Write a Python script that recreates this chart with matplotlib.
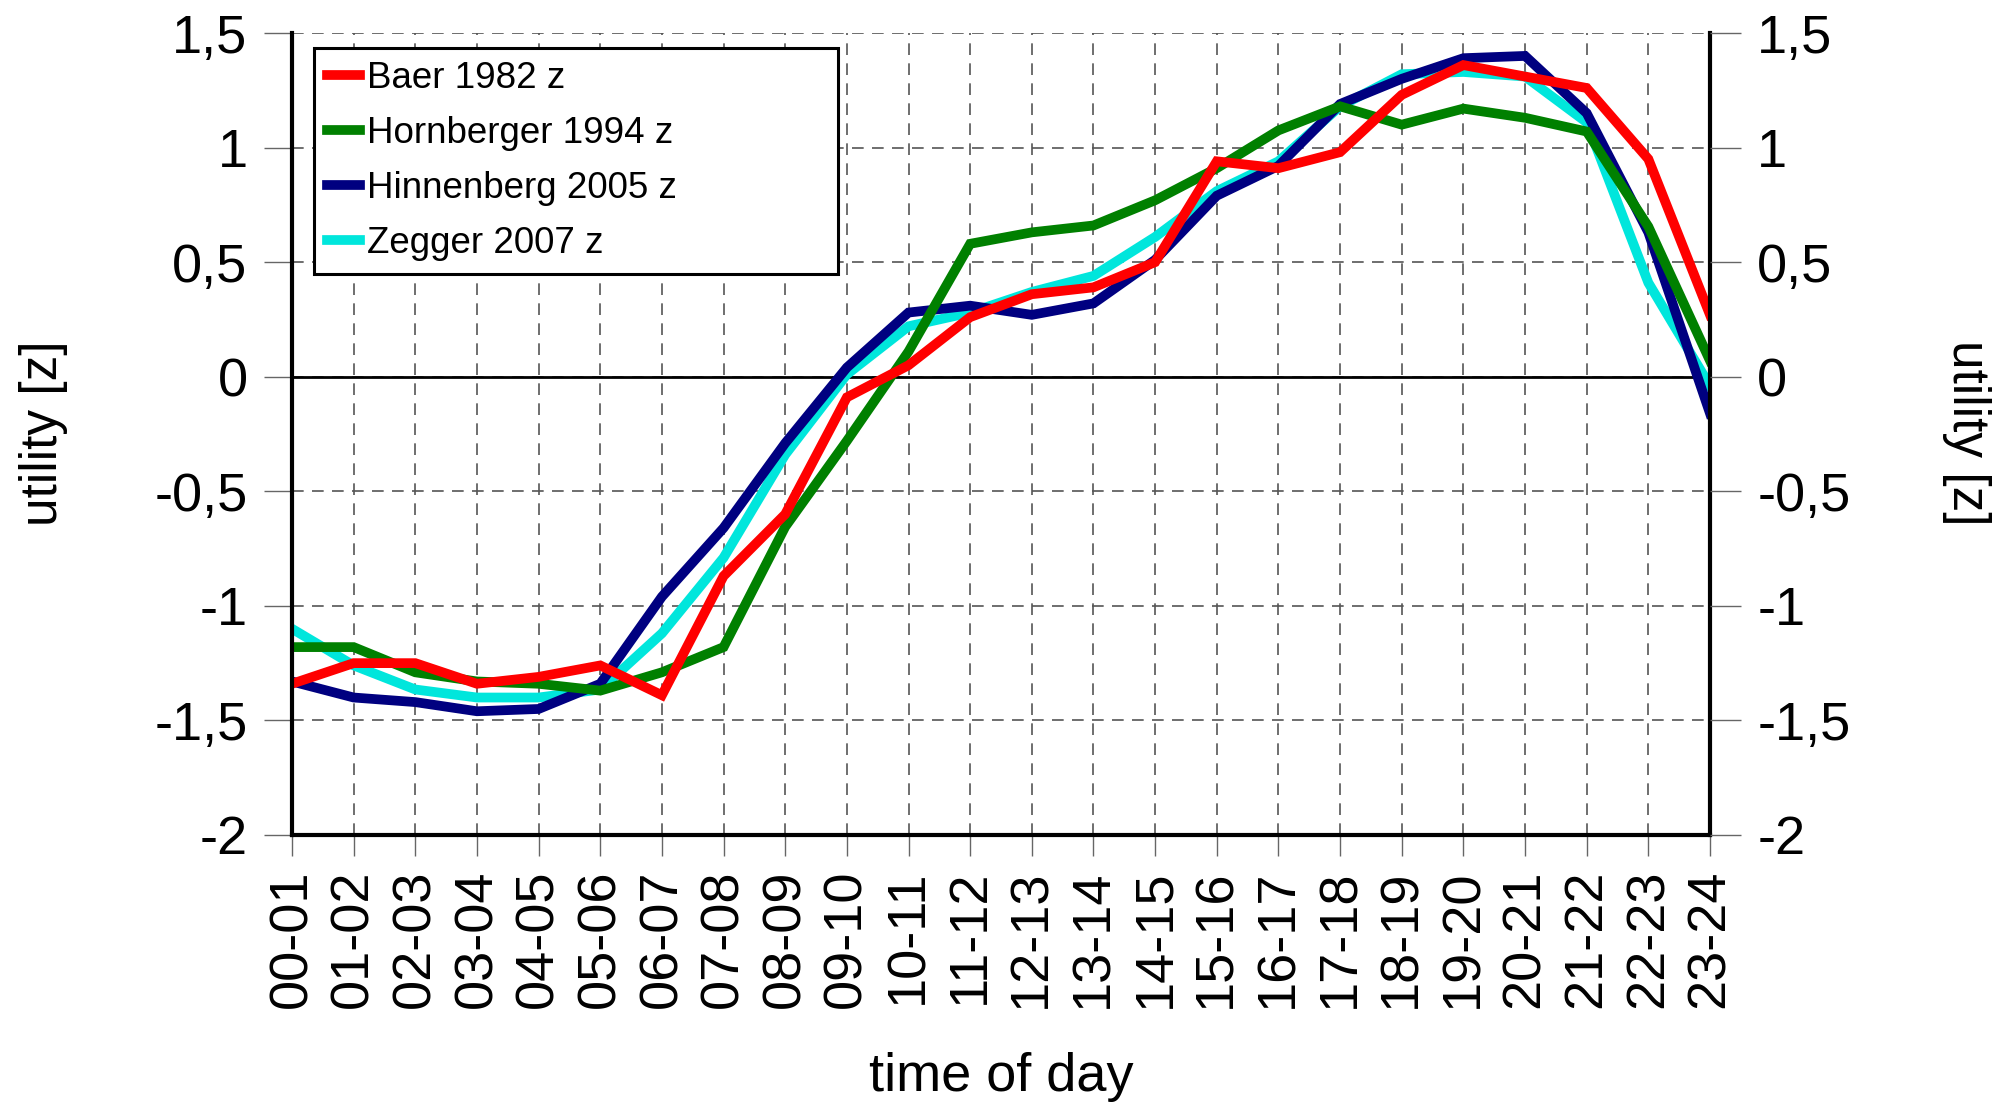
import numpy as np
import matplotlib
matplotlib.use('Agg')
import matplotlib.pyplot as plt

plt.rcParams['font.family'] = ['Liberation Sans', 'DejaVu Sans']

hours = ['00-01', '01-02', '02-03', '03-04', '04-05', '05-06', '06-07', '07-08',
         '08-09', '09-10', '10-11', '11-12', '12-13', '13-14', '14-15', '15-16',
         '16-17', '17-18', '18-19', '19-20', '20-21', '21-22', '22-23', '23-24']

baer = [-1.34, -1.25, -1.25, -1.34, -1.31, -1.26, -1.39, -0.87, -0.60, -0.09,
        0.05, 0.26, 0.36, 0.39, 0.50, 0.94, 0.91, 0.98, 1.23, 1.36,
        1.31, 1.26, 0.95, 0.27]
hornberger = [-1.18, -1.18, -1.29, -1.33, -1.34, -1.37, -1.29, -1.18, -0.655, -0.28,
              0.11, 0.58, 0.63, 0.66, 0.77, 0.91, 1.075, 1.18, 1.10, 1.17,
              1.13, 1.07, 0.655, 0.07]
hinnenberg = [-1.33, -1.40, -1.42, -1.46, -1.45, -1.34, -0.96, -0.66, -0.29, 0.04,
              0.28, 0.31, 0.27, 0.32, 0.51, 0.79, 0.92, 1.19, 1.30, 1.39,
              1.40, 1.15, 0.63, -0.16]
zegger = [-1.10, -1.26, -1.365, -1.40, -1.40, -1.365, -1.12, -0.79, -0.34, 0.01,
          0.22, 0.28, 0.37, 0.44, 0.61, 0.81, 0.94, 1.18, 1.32, 1.33,
          1.31, 1.11, 0.41, -0.04]

yticks = [-2, -1.5, -1, -0.5, 0, 0.5, 1, 1.5]
ytick_labels = ['-2', '-1,5', '-1', '-0,5', '0', '0,5', '1', '1,5']

fig = plt.figure(figsize=(20.02, 11.03), dpi=100)
ax = fig.add_axes([292/2002, 1-835/1103, 1418/2002, 802/1103])

x = np.arange(len(hours))
lw = 7
l_zeg, = ax.plot(x, zegger, color='#00e6dc', lw=lw, solid_joinstyle='miter', label='Zegger 2007 z')
l_hin, = ax.plot(x, hinnenberg, color='#000080', lw=lw, solid_joinstyle='miter', label='Hinnenberg 2005 z')
l_hor, = ax.plot(x, hornberger, color='#008000', lw=lw, solid_joinstyle='miter', label='Hornberger 1994 z')
l_bae, = ax.plot(x, baer, color='#ff0000', lw=lw, solid_joinstyle='miter', label='Baer 1982 z')

ax.axhline(0, color='black', lw=2, zorder=1.5)

ax.set_xlim(0, len(hours)-1)
ax.set_ylim(-2, 1.5)
ax.set_xticks(x)
ax.set_xticklabels(hours, rotation=90, fontsize=39)
ax.set_yticks(yticks)
ax.set_yticklabels(ytick_labels, fontsize=39)
ax.tick_params(axis='y', direction='out', length=20, width=1, color='#666666', pad=12)
ax.tick_params(axis='x', direction='out', length=15, width=1, color='#666666', pad=10)

ax.grid(True, color='#555555', lw=1.2, linestyle=(0, (7, 5)))
ax.set_axisbelow(True)

for s in ['left', 'right', 'bottom']:
    ax.spines[s].set_linewidth(3)
    ax.spines[s].set_color('black')
ax.spines['top'].set_visible(False)

ax2 = ax.twinx()
ax2.set_ylim(-2, 1.5)
ax2.set_yticks(yticks)
ax2.set_yticklabels(ytick_labels, fontsize=39)
ax2.tick_params(axis='y', direction='out', length=22, width=1, color='#666666', pad=12)
for s in ax2.spines.values():
    s.set_visible(False)

# legend box is wider than its text in the original, so stretch it
leg = ax.legend(handles=[l_bae, l_hor, l_hin, l_zeg], loc='upper left',
                bbox_to_anchor=(0.0155, 0.5, 0.3695, 0.481), mode='expand',
                borderaxespad=0, fontsize=26.5,
                handlelength=0.9, handletextpad=0.2, labelspacing=0.54,
                borderpad=0.35, fancybox=False, framealpha=1)
leg.get_frame().set_edgecolor('black')
leg.get_frame().set_linewidth(2.2)
for h in leg.get_lines():
    h.set_linewidth(7)

fig.text(44/2002, 1-433/1103, 'utility [z]', rotation=90, ha='center', va='center', fontsize=37)
fig.text(1967/2002, 1-433/1103, 'utility [z]', rotation=270, ha='center', va='center', fontsize=37)
fig.text(1001/2002, 1-1077/1103, 'time of day', ha='center', va='center', fontsize=39)

fig.savefig('out.png', dpi=100)
